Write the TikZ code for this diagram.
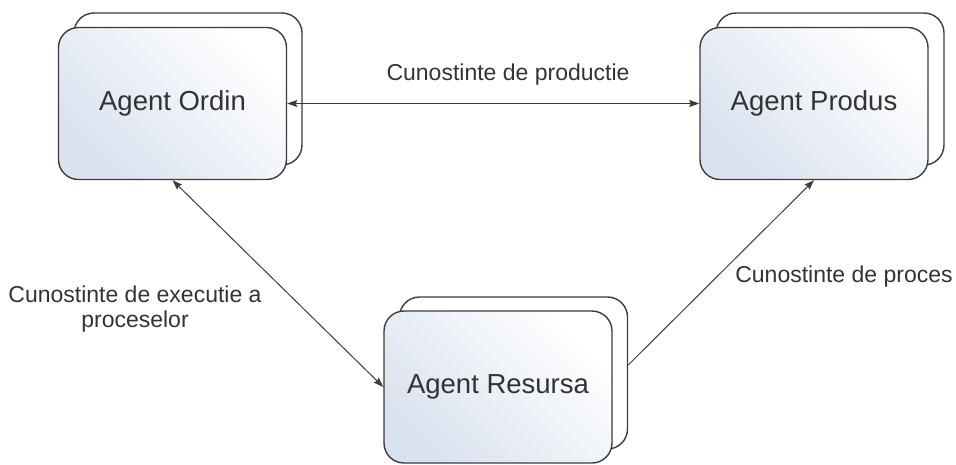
\documentclass[tikz,border=0pt]{standalone}
\usepackage{fontspec}
\setmainfont{Liberation Sans}
\usetikzlibrary{arrows.meta,calc}
\definecolor{edge}{HTML}{3C3C3C}
\definecolor{txt}{HTML}{333333}
\definecolor{boxblue}{HTML}{DAE2EF}
\begin{document}
\begin{tikzpicture}[x=1pt,y=-1pt,
  agentback/.style={draw=edge, line width=1.4pt, fill=white, rounded corners=20pt,
    minimum width=228pt, minimum height=152pt, inner sep=0pt},
  agent/.style={agentback, top color=boxblue, bottom color=white, shading angle=135,
    text=txt, font=\fontsize{27.5pt}{32pt}\selectfont},
  lbl/.style={text=txt, inner sep=0pt, font=\fontsize{23pt}{25pt}\selectfont},
  conn/.style={draw=edge, line width=1pt},
  tip/.tip={Stealth[length=10pt,width=7pt,inset=1.5pt]}]
\useasboundingbox (0,0) rectangle (956,464);
% back boxes
\node[agentback] (Ob) at (188,89) {};
\node[agentback] (Pb) at (830,89) {};
\node[agentback] (Rb) at (513.5,373) {};
% front boxes
\node[agent] (O) at (172.5,103.5) {Agent Ordin};
\node[agent] (P) at (814,103.5) {Agent Produs};
\node[agent] (R) at (498,387) {Agent Resursa};
% connectors
\draw[conn,{tip}-{tip}] (O.east) -- (P.west);
\draw[conn,{tip}-{tip}] (O.south) -- (R.west);
\draw[conn,-{tip}] ($(Rb.east)+(0,-8)$) -- (P.south);
% labels
\node[lbl] (l1) at (508,75) {Cunostinte de productie};
\node[lbl] (l2) at (844,277) {Cunostinte de proces};
\node[lbl, align=center] (l3) at (135,309) {Cunostinte de executie a\\proceselor};
\end{tikzpicture}
\end{document}
